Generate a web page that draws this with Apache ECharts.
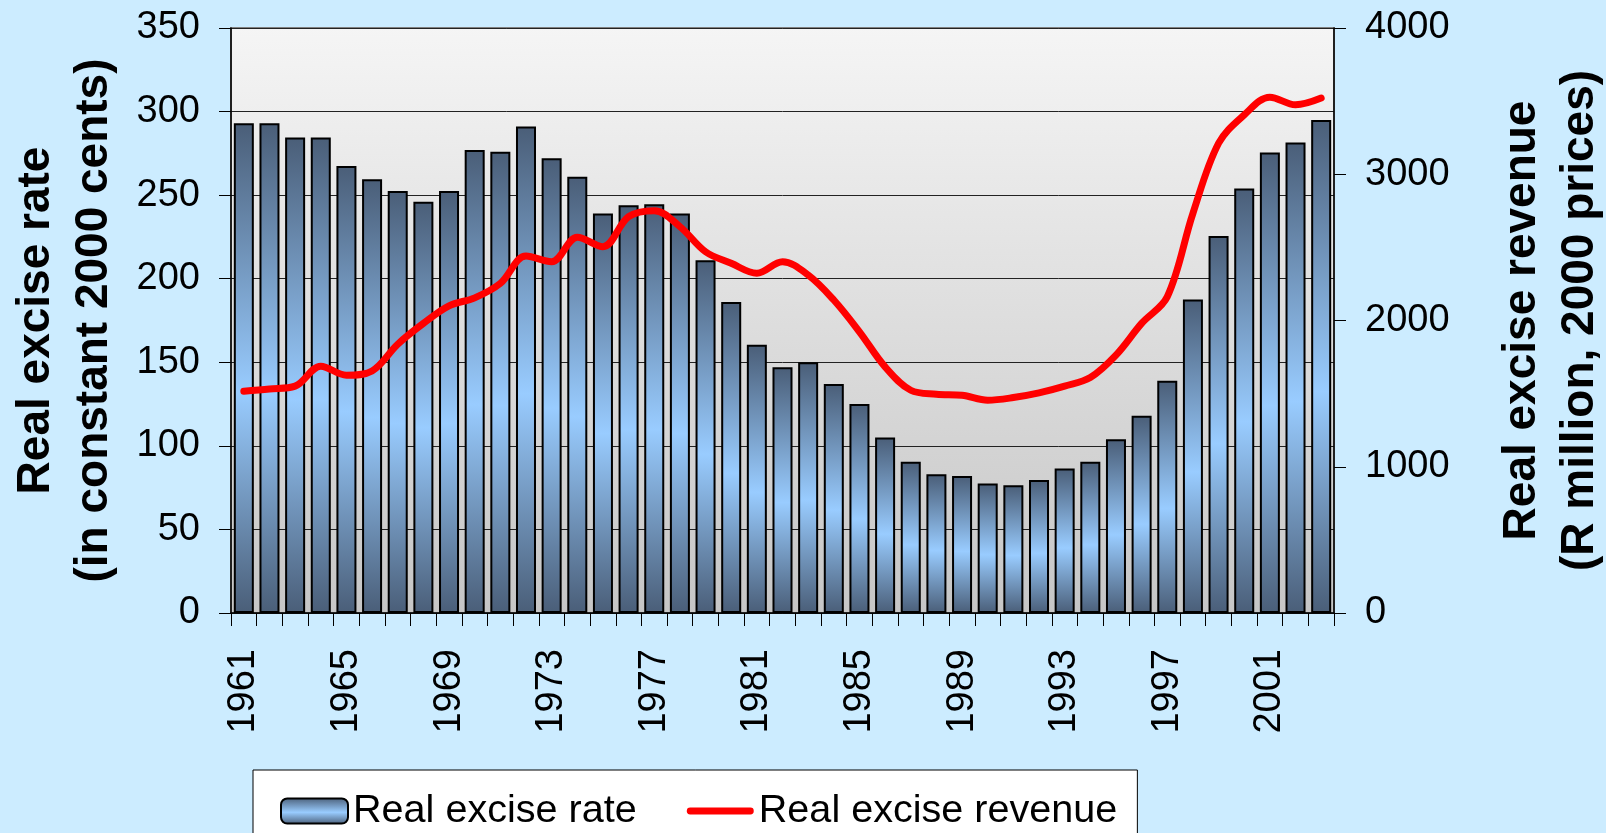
<!DOCTYPE html>
<html lang="en">
<head>
    <meta charset="UTF-8">
    <title>Real excise rate and revenue</title>
    <script src="https://cdn.jsdelivr.net/npm/echarts@6/dist/echarts.min.js"></script>
    <style>
        * {
            margin: 0;
            padding: 0;
        }

        body {
            background-color: #CCECFF;
        }

        #chart {
            width: 1606px;
            height: 833px;
        }
    </style>
</head>
<body>
    <div id="chart"></div>

    <script>
        // years on the category axis
        const years = ['1961', '1962', '1963', '1964', '1965', '1966', '1967', '1968', '1969', '1970',
            '1971', '1972', '1973', '1974', '1975', '1976', '1977', '1978', '1979', '1980',
            '1981', '1982', '1983', '1984', '1985', '1986', '1987', '1988', '1989', '1990',
            '1991', '1992', '1993', '1994', '1995', '1996', '1997', '1998', '1999', '2000',
            '2001', '2002', '2003'];

        // real excise rate (constant 2000 cents), left axis
        const exciseRate = [293, 293, 284.5, 284.5, 267.5, 259.5, 252.5, 246, 252.5, 277,
            276, 291, 272, 261, 239, 244, 244.5, 239, 211, 186,
            160.5, 147, 150, 137, 125, 105, 90.5, 83, 82, 77.5,
            76.5, 79.5, 86.5, 90.5, 104, 118, 139, 187.5, 225.5, 254,
            275.5, 281.5, 295];

        // real excise revenue (R million, 2000 prices), right axis
        const exciseRevenue = [1517, 1532, 1551, 1688, 1626, 1655, 1838, 1980, 2100, 2155,
            2254, 2441, 2402, 2569, 2505, 2710, 2751, 2642, 2470, 2391,
            2323, 2402, 2311, 2140, 1923, 1683, 1523, 1496, 1489, 1455,
            1473, 1505, 1551, 1610, 1763, 1980, 2162, 2733, 3212, 3406,
            3527, 3475, 3521];

        const fontFamily = '"Liberation Sans", Arial, sans-serif';

        const chart = echarts.init(document.getElementById('chart'));

        const barFill = new echarts.graphic.LinearGradient(0, 0, 0, 1, [
            { offset: 0, color: '#4A5E78' },
            { offset: 0.55, color: '#99CCFF' },
            { offset: 1, color: '#4A5E78' }
        ]);

        // thick rounded stroke for the line's legend key
        const lineKey = 'path://M3.75,0L70.25,0A3.75,3.75,0,0,1,70.25,7.5L3.75,7.5A3.75,3.75,0,0,1,3.75,0Z';

        const option = {
            backgroundColor: '#CCECFF',
            animation: false,
            textStyle: {
                fontFamily: fontFamily,
                color: '#000'
            },
            grid: {
                left: 231,
                right: 272,
                top: 28,
                bottom: 220,
                outerBoundsMode: 'none',
                show: true,
                borderColor: '#808080',
                borderWidth: 2,
                backgroundColor: new echarts.graphic.LinearGradient(0, 0, 0, 1, [
                    { offset: 0, color: '#F5F5F5' },
                    { offset: 1, color: '#C6C6C6' }
                ])
            },
            legend: {
                left: 253,
                top: 770,
                padding: [21, 20, 40, 27],
                itemWidth: 67,
                itemHeight: 25,
                itemGap: 50,
                symbolKeepAspect: true,
                backgroundColor: '#FFFFFF',
                borderColor: '#000',
                borderWidth: 1,
                textStyle: {
                    fontSize: 39.6,
                    fontFamily: fontFamily,
                    color: '#000'
                },
                data: [
                    { name: 'Real excise rate' },
                    { name: 'Real excise revenue', icon: lineKey }
                ]
            },
            xAxis: {
                type: 'category',
                data: years,
                axisLine: {
                    lineStyle: { color: '#000', width: 1.5 }
                },
                axisTick: {
                    show: true,
                    interval: 0,
                    length: 13,
                    lineStyle: { color: '#000' }
                },
                axisLabel: {
                    interval: 3,
                    rotate: 90,
                    margin: 36,
                    fontSize: 38,
                    color: '#000'
                }
            },
            yAxis: [
                {
                    type: 'value',
                    min: 0,
                    max: 350,
                    interval: 50,
                    name: 'Real excise rate\n(in constant 2000 cents)',
                    nameLocation: 'middle',
                    nameRotate: 90,
                    nameGap: 108,
                    nameTextStyle: {
                        fontSize: 46,
                        fontWeight: 'bold',
                        lineHeight: 58,
                        color: '#000'
                    },
                    axisLine: {
                        show: true,
                        lineStyle: { color: '#000', width: 1.5 }
                    },
                    axisTick: {
                        show: true,
                        length: 12,
                        lineStyle: { color: '#000' }
                    },
                    axisLabel: {
                        margin: 31,
                        fontSize: 38,
                        color: '#000'
                    },
                    splitLine: {
                        lineStyle: { color: '#222', width: 1 }
                    }
                },
                {
                    type: 'value',
                    min: 0,
                    max: 4000,
                    interval: 1000,
                    position: 'right',
                    name: 'Real excise revenue\n(R million, 2000 prices)',
                    nameLocation: 'middle',
                    nameRotate: 90,
                    nameGap: 159,
                    nameTextStyle: {
                        fontSize: 46,
                        fontWeight: 'bold',
                        lineHeight: 58,
                        color: '#000'
                    },
                    axisLine: {
                        show: true,
                        lineStyle: { color: '#000', width: 1.5 }
                    },
                    axisTick: {
                        show: true,
                        length: 12,
                        lineStyle: { color: '#000' }
                    },
                    axisLabel: {
                        margin: 31,
                        fontSize: 38,
                        color: '#000',
                        formatter: function (v) { return String(v); }
                    },
                    splitLine: { show: false }
                }
            ],
            series: [
                {
                    name: 'Real excise rate',
                    type: 'bar',
                    yAxisIndex: 0,
                    data: exciseRate,
                    barCategoryGap: '22%',
                    itemStyle: {
                        color: barFill,
                        borderColor: '#000',
                        borderWidth: 2
                    }
                },
                {
                    name: 'Real excise revenue',
                    type: 'line',
                    yAxisIndex: 1,
                    data: exciseRevenue,
                    smooth: 0.35,
                    symbol: 'none',
                    z: 5,
                    lineStyle: {
                        color: '#FF0000',
                        width: 7,
                        cap: 'round'
                    },
                    itemStyle: {
                        color: '#FF0000'
                    }
                }
            ]
        };

        chart.setOption(option);
    </script>
</body>
</html>
